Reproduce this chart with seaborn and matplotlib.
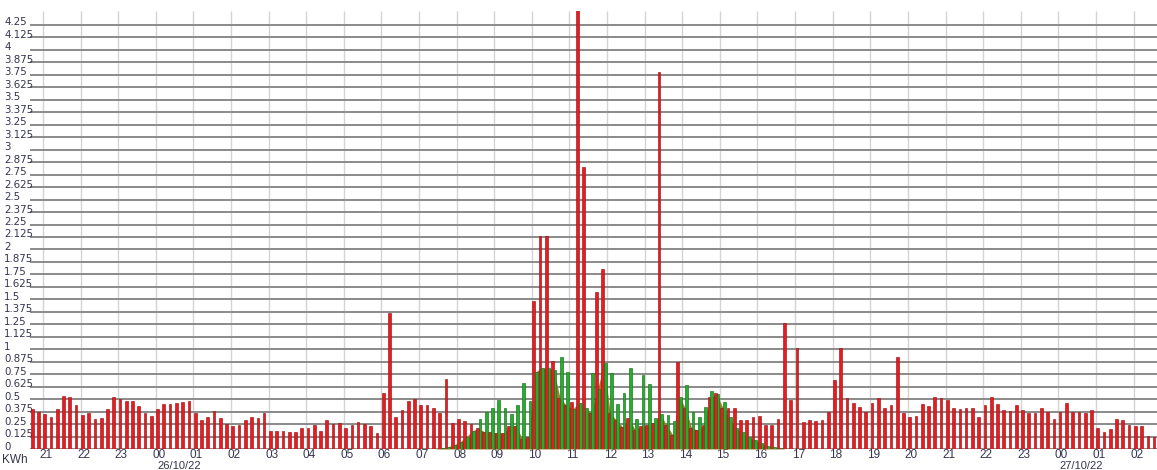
import numpy as np
import pandas as pd
import matplotlib
matplotlib.use("Agg")
import matplotlib.pyplot as plt
import seaborn as sns
from matplotlib.transforms import ScaledTranslation, blended_transform_factory

# 10-minute readings from 25/10/22 20:40 to 27/10/22 02:30 (kWh per slot)
first_slot = "2022-10-25 20:40"
n_slots = 180

import_kwh = [
    0.40, 0.37, 0.35, 0.32, 0.40, 0.53,
    0.52, 0.44, 0.34, 0.36, 0.30, 0.31,
    0.40, 0.52, 0.50, 0.48, 0.48, 0.43,
    0.36, 0.33, 0.40, 0.45, 0.45, 0.46,
    0.47, 0.48, 0.36, 0.29, 0.32, 0.38,
    0.31, 0.25, 0.23, 0.24, 0.29, 0.32,
    0.31, 0.36, 0.18, 0.18, 0.18, 0.17,
    0.17, 0.21, 0.21, 0.24, 0.18, 0.29,
    0.25, 0.26, 0.21, 0.24, 0.27, 0.25,
    0.23, 0.16, 0.56, 1.36, 0.32, 0.39,
    0.48, 0.50, 0.44, 0.44, 0.41, 0.36,
    0.70, 0.26, 0.30, 0.28, 0.25, 0.21,
    0.17, 0.17, 0.16, 0.16, 0.23, 0.23,
    0.10, 0.12, 1.48, 2.13, 2.13, 0.88,
    0.51, 0.44, 0.47, 4.50, 2.83, 0.36,
    1.57, 1.80, 0.36, 0.29, 0.22, 0.31,
    0.19, 0.23, 0.24, 0.26, 3.78, 0.24,
    0.14, 0.87, 0.41, 0.21, 0.19, 0.24,
    0.52, 0.56, 0.41, 0.41, 0.41, 0.29,
    0.29, 0.32, 0.33, 0.24, 0.24, 0.30,
    1.26, 0.49, 1.01, 0.27, 0.29, 0.28,
    0.29, 0.37, 0.69, 1.01, 0.51, 0.46,
    0.42, 0.37, 0.46, 0.51, 0.41, 0.44,
    0.92, 0.36, 0.32, 0.33, 0.45, 0.43,
    0.52, 0.51, 0.49, 0.41, 0.40, 0.41,
    0.41, 0.32, 0.44, 0.52, 0.45, 0.39,
    0.38, 0.44, 0.39, 0.36, 0.36, 0.41,
    0.37, 0.30, 0.37, 0.46, 0.37, 0.37,
    0.36, 0.39, 0.21, 0.17, 0.20, 0.30,
    0.29, 0.24, 0.23, 0.23, 0.13, 0.12,
]

# Solar generation, only non-zero between these slots
solar_first_slot = "2022-10-26 07:30"
solar_kwh = [
    0.01, 0.02, 0.04, 0.07, 0.12, 0.18,
    0.30, 0.37, 0.41, 0.49, 0.41, 0.35,
    0.44, 0.66, 0.48, 0.77, 0.81, 0.81,
    0.79, 0.92, 0.77, 0.40, 0.46, 0.41,
    0.76, 0.60, 0.86, 0.76, 0.45, 0.56,
    0.81, 0.30, 0.74, 0.65, 0.31, 0.35,
    0.34, 0.28, 0.52, 0.64, 0.37, 0.32,
    0.42, 0.58, 0.55, 0.47, 0.32, 0.21,
    0.17, 0.12, 0.09, 0.06, 0.03, 0.02,
    0.01,
]

y_max_label = 4.25
y_step = 0.125

# ---------------------------------------------------------------------------
slots = pd.date_range(first_slot, periods=n_slots, freq="10min")
slot_names = [t.strftime("%d/%m %H:%M") for t in slots]
solar_full = pd.Series(0.0, index=slots)
solar_idx = pd.date_range(solar_first_slot, periods=len(solar_kwh), freq="10min")
solar_full.loc[solar_idx] = solar_kwh

imp = np.array(import_kwh)
sol = solar_full.to_numpy()

df = pd.DataFrame({
    "slot": slot_names * 2,
    "series": ["Import"] * n_slots + ["Solar"] * n_slots,
    "kwh": np.concatenate([imp, sol]),
})

W, H = 1157, 470
fig = plt.figure(figsize=(W / 100, H / 100), dpi=100)
ax = fig.add_axes([30 / W, 21 / H, 1127 / W, 438 / H])
ax.set_facecolor("white")

x_font = ["Liberation Sans", "DejaVu Sans"]
y_font = ["DejaVu Sans"]
text_col = "#35354f"

# self-consumed energy (overlap of the two series) as a filled area behind bars
x_pos = np.arange(n_slots)
ax.fill_between(x_pos, np.minimum(imp, sol), 0, color="#9c7b30", lw=0, zorder=1)

sns.barplot(
    data=df, x="slot", y="kwh", hue="series",
    order=slot_names, hue_order=["Import", "Solar"],
    palette={"Import": "#ec1a1f", "Solar": "#25ad2c"},
    width=0.86, errorbar=None, dodge=True, saturation=1,
    legend=False, ax=ax, linewidth=0.45, zorder=2,
)
edge_cols = ["#9a1515", "#17701c"]
for cont, ec in zip(ax.containers, edge_cols):
    for bar in cont:
        bar.set_edgecolor(ec)

# hour gridlines and labels
hour_pos = [i for i, t in enumerate(slots) if t.minute == 0]
hour_lab = [slots[i].strftime("%H") for i in hour_pos]
ax.vlines([p - 0.5 for p in hour_pos], 0, 1,
          transform=blended_transform_factory(ax.transData, ax.transAxes),
          colors="#d4d4d4", lw=1.0, zorder=0.5)

ax.set_xticks(hour_pos)
ax.set_xticklabels(hour_lab, fontsize=8.5, color=text_col, family=x_font)

yt = np.arange(0, y_max_label + 1e-9, y_step)
ax.set_yticks(yt)
ax.set_yticklabels([f"{v:g}" for v in yt], fontsize=7.4, color=text_col,
                   family=y_font, ha="left")
ax.yaxis.grid(True, color="#8a8a8a", lw=1.4, zorder=0.6)
ax.set_axisbelow(True)

ax.set_xlim(-0.57, n_slots - 1 + 0.24)
ax.set_ylim(0, 4.39)
ax.set_xlabel("")
ax.set_ylabel("")
for s in ax.spines.values():
    s.set_visible(False)
ax.tick_params(axis="both", length=0)
ax.tick_params(axis="x", pad=0.0)
ax.tick_params(axis="y", pad=18.7)
shift = ScaledTranslation(0, 3.5 / 100, fig.dpi_scale_trans)
for lab in ax.get_yticklabels():
    lab.set_transform(lab.get_transform() + shift)

# date captions under each midnight
trans = blended_transform_factory(ax.transData, ax.transAxes)
for i, t in enumerate(slots):
    if t.hour == 0 and t.minute == 0:
        ax.text(i - 0.3, -0.0395, t.strftime("%d/%m/%y"), transform=trans,
                ha="left", va="center", fontsize=8, color=text_col,
                family=x_font)

fig.text(2 / W, 1 - 460 / H, "KWh", ha="left", va="center", fontsize=8.5,
         color=text_col, family=x_font)

fig.savefig("out.png", dpi=100, facecolor="white")
